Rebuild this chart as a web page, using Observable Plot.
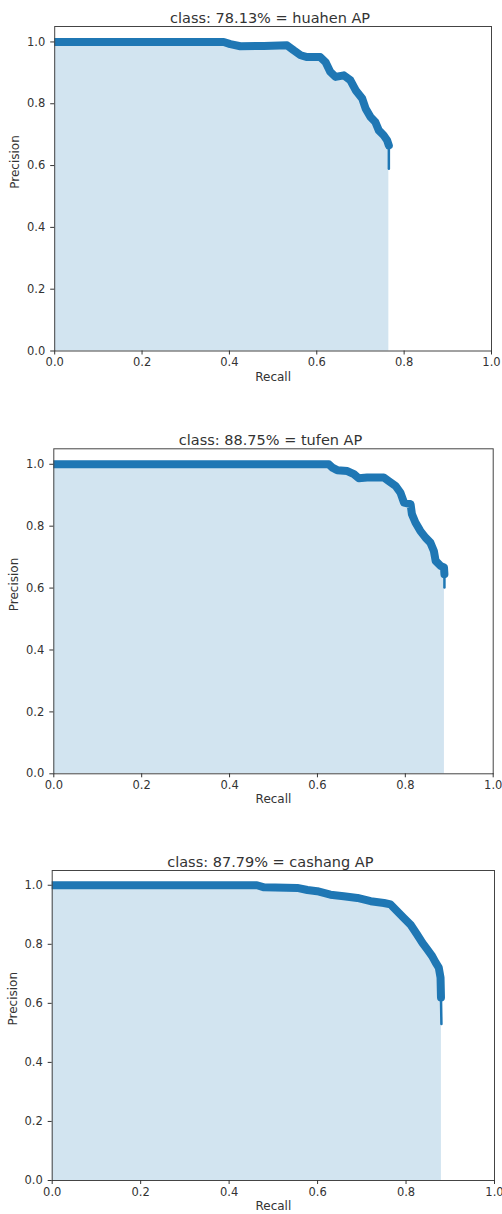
<!DOCTYPE html>
<html><head><meta charset="utf-8">
<script src="https://cdn.jsdelivr.net/npm/d3@7"></script>
<script src="https://cdn.jsdelivr.net/npm/@observablehq/plot@0.6"></script>
<style>body{margin:0;background:#fff;} #c svg{display:block}</style>
</head><body><div id="c"></div>
<script>
const titles = ["class: 78.13% = huahen AP", "class: 88.75% = tufen AP", "class: 87.79% = cashang AP"];

const recall1 = [0, 0.387, 0.402, 0.425, 0.479, 0.532, 0.547, 0.563, 0.578, 0.608, 0.62, 0.631, 0.643, 0.662, 0.677, 0.689, 0.704, 0.712, 0.723, 0.734, 0.742, 0.753, 0.761, 0.765, 0.765];
const precision1 = [1.0, 1.0, 0.993, 0.986, 0.987, 0.989, 0.973, 0.957, 0.951, 0.951, 0.935, 0.903, 0.887, 0.892, 0.876, 0.844, 0.817, 0.784, 0.757, 0.741, 0.714, 0.698, 0.682, 0.665, 0.59];

const recall2 = [0, 0.626, 0.634, 0.645, 0.668, 0.683, 0.694, 0.713, 0.751, 0.762, 0.778, 0.789, 0.797, 0.812, 0.815, 0.823, 0.834, 0.846, 0.857, 0.865, 0.869, 0.88, 0.888, 0.889, 0.889];
const precision2 = [1.0, 1.0, 0.989, 0.981, 0.978, 0.968, 0.955, 0.957, 0.957, 0.946, 0.93, 0.908, 0.876, 0.871, 0.839, 0.812, 0.785, 0.763, 0.747, 0.72, 0.688, 0.672, 0.667, 0.645, 0.602];

const recall3 = [0, 0.463, 0.479, 0.554, 0.577, 0.599, 0.629, 0.659, 0.69, 0.72, 0.75, 0.765, 0.78, 0.795, 0.81, 0.825, 0.837, 0.848, 0.859, 0.867, 0.874, 0.878, 0.879, 0.88];
const precision3 = [1.0, 1.0, 0.993, 0.991, 0.984, 0.98, 0.968, 0.963, 0.957, 0.946, 0.94, 0.935, 0.912, 0.889, 0.867, 0.833, 0.805, 0.783, 0.76, 0.738, 0.721, 0.687, 0.62, 0.53];

const xTicks = [0, 0.2, 0.4, 0.6, 0.8, 1.0];
const yTicks = [0, 0.2, 0.4, 0.6, 0.8, 1.0];

const layouts = [
  {height: 420, marginTop: 26, marginBottom: 69.5, marginLeft: 54.2, marginRight: 11},
  {height: 420, marginTop: 28.3, marginBottom: 66.7, marginLeft: 53.3, marginRight: 9.3},
  {height: 374, marginTop: 30, marginBottom: 34, marginLeft: 51.7, marginRight: 8}
];

function chart(title, rec, prec, layout) {
  const pts = rec.map((r, i) => ({r, p: prec[i]}));
  const main = pts.slice(0, -1);
  const tail = pts.slice(-2);
  return Plot.plot({
    width: 502,
    ...layout,
    style: {fontFamily: "DejaVu Sans", fontSize: "11.5px", color: "#333", background: "#fff"},
    x: {domain: [0, 1]},
    y: {domain: [0, 1.05]},
    marks: [
      Plot.areaY(pts, {x: "r", y: "p", fill: "#d2e4f0", curve: "linear"}),
      Plot.line(main, {x: "r", y: "p", stroke: "#1f77b4", strokeWidth: 8, strokeLinejoin: "round", strokeLinecap: "round", clip: true}),
      Plot.line(tail, {x: "r", y: "p", stroke: "#1f77b4", strokeWidth: 2.5}),
      Plot.frame({stroke: "#444"}),
      Plot.axisX({ticks: xTicks, tickFormat: d3.format(".1f"), tickSize: 4, tickPadding: 3, label: null}),
      Plot.axisY({ticks: yTicks, tickFormat: d3.format(".1f"), tickSize: 4, tickPadding: 5.5, label: null}),
      Plot.text([title], {frameAnchor: "top", dy: -14, dx: -3, fontSize: 14.5, text: d => d}),
      Plot.text(["Recall"], {frameAnchor: "bottom", dy: 29.5, fontSize: 12, text: d => d}),
      Plot.text(["Precision"], {frameAnchor: "left", dx: -39.5, rotate: -90, fontSize: 12, text: d => d})
    ]
  });
}

const c = document.getElementById("c");
c.appendChild(chart(titles[0], recall1, precision1, layouts[0]));
c.appendChild(chart(titles[1], recall2, precision2, layouts[1]));
c.appendChild(chart(titles[2], recall3, precision3, layouts[2]));
</script>
</body></html>
